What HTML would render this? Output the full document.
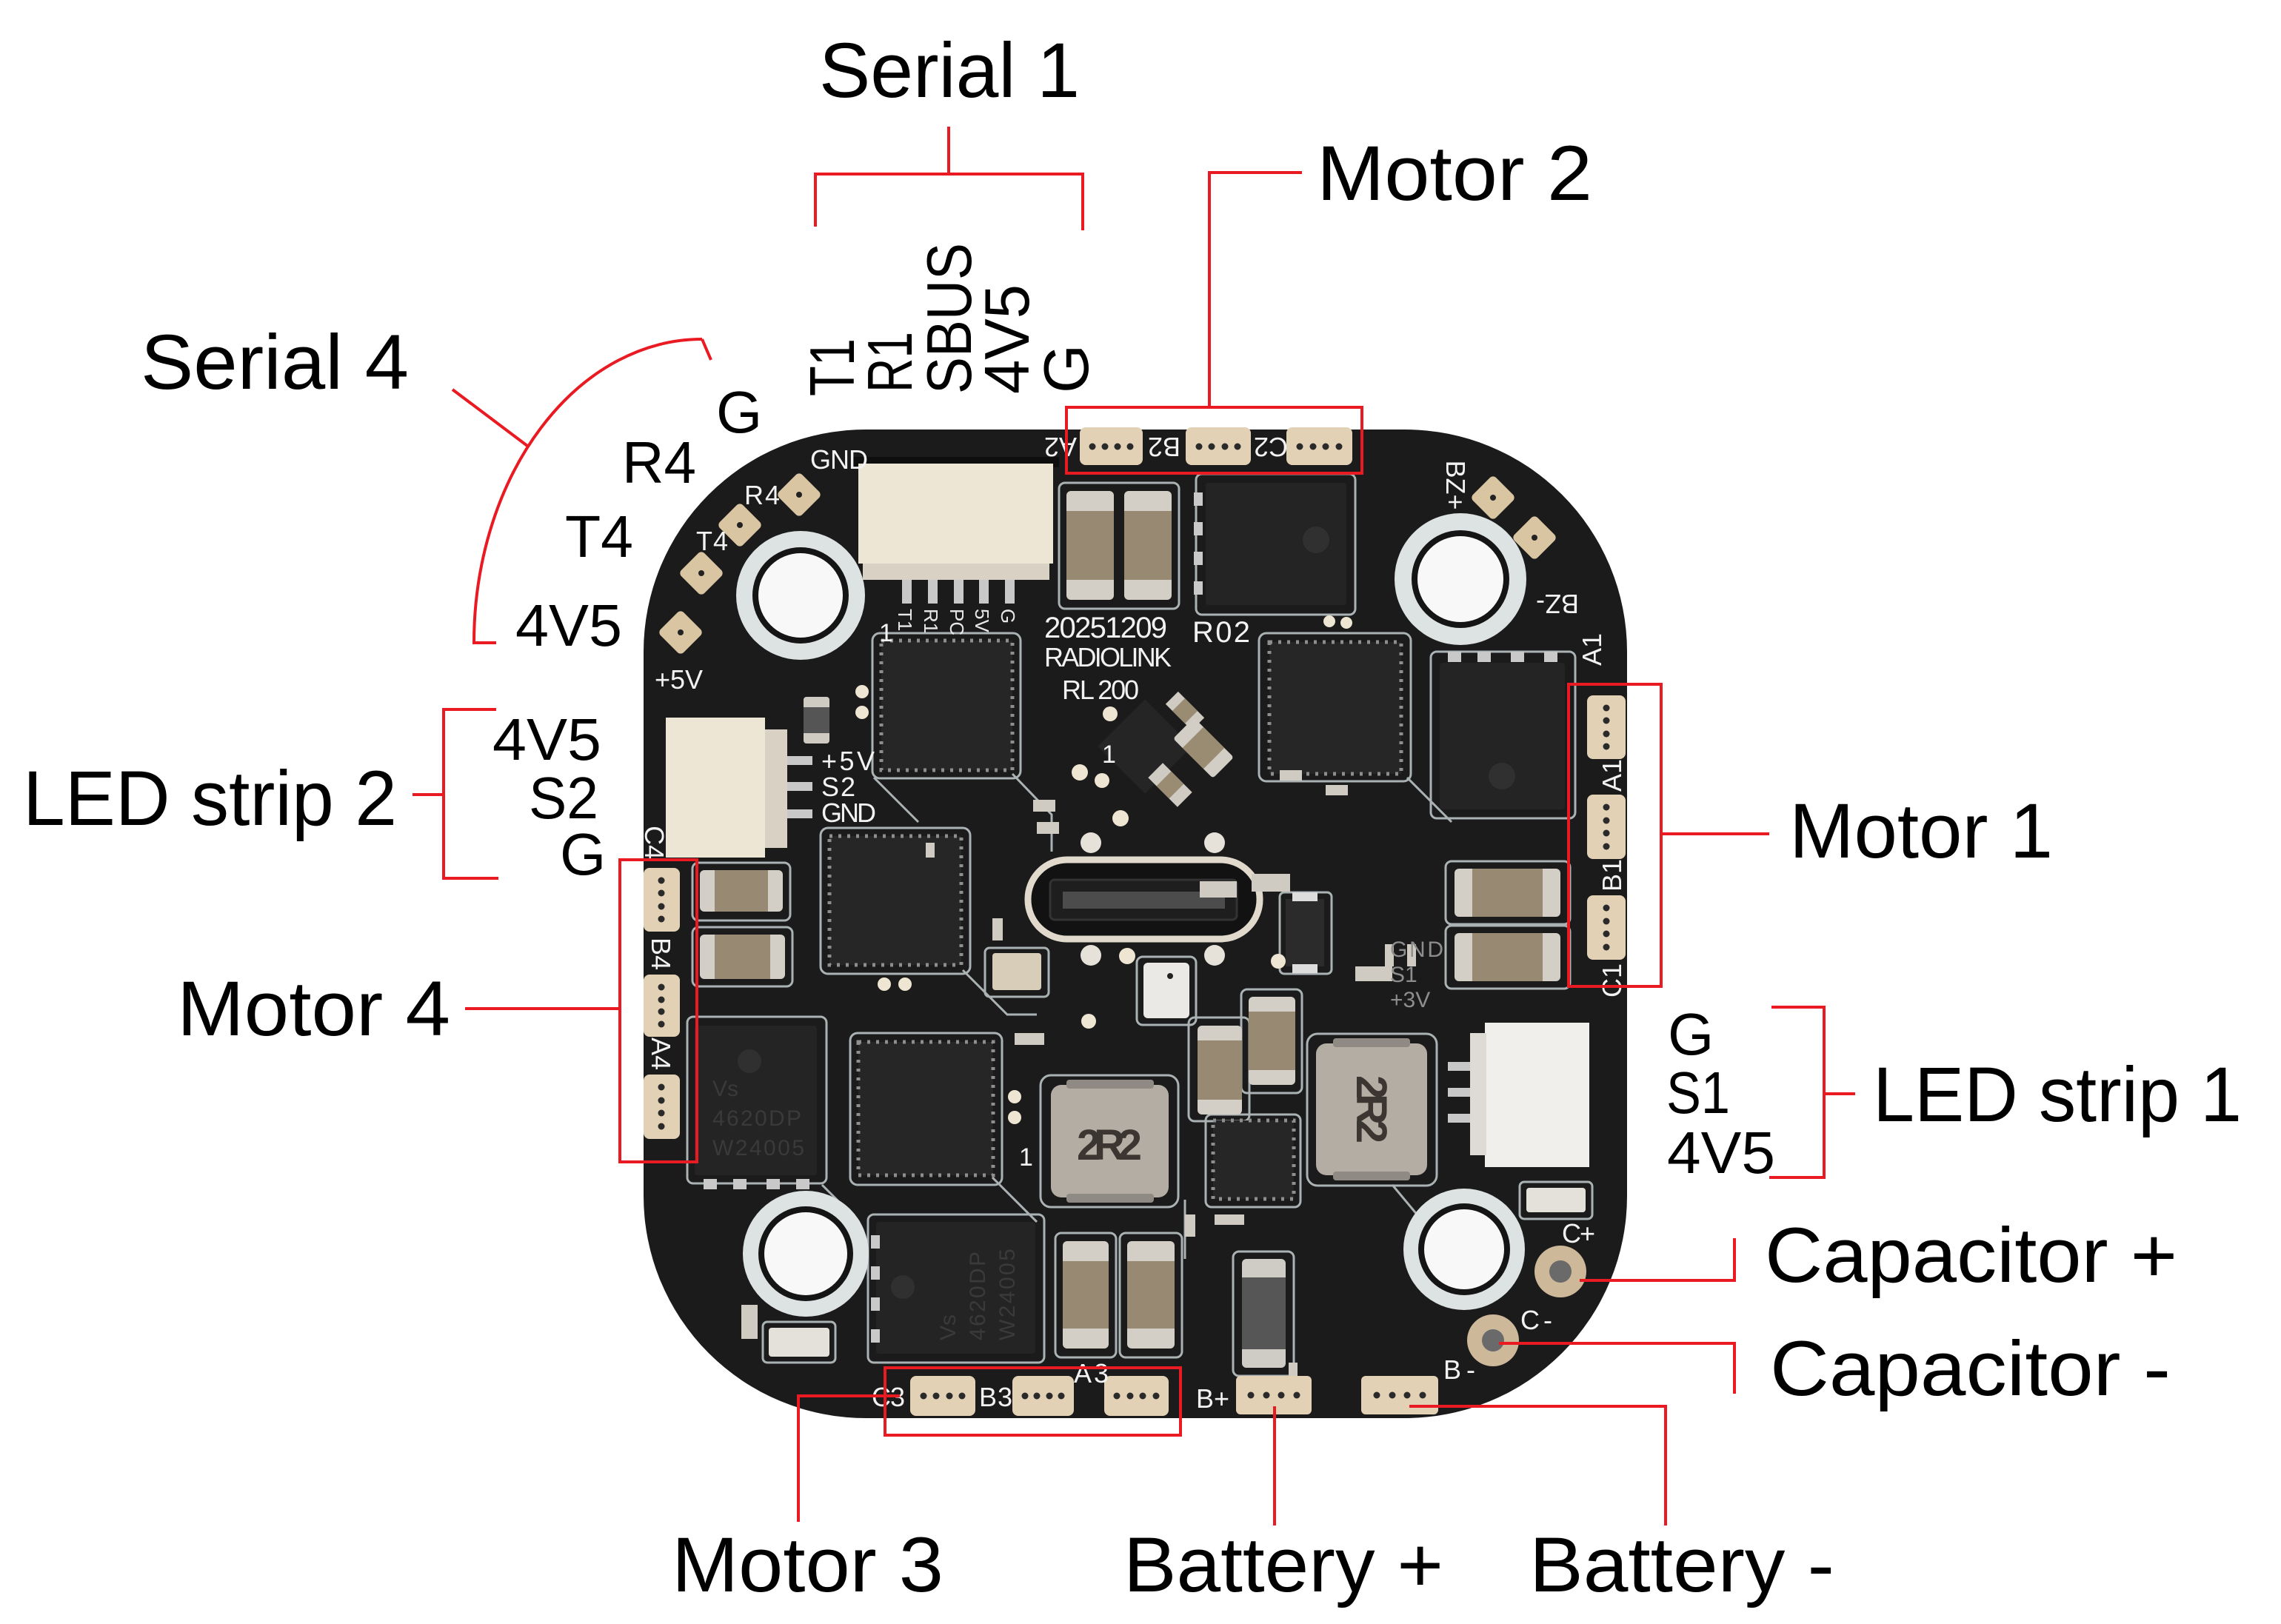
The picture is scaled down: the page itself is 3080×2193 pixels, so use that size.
<!DOCTYPE html>
<html><head><meta charset="utf-8">
<style>html,body{margin:0;padding:0;background:#fff}svg{display:block}</style>
</head><body>
<svg width="3080" height="2193" viewBox="0 0 3080 2193" xmlns="http://www.w3.org/2000/svg" font-family="'Liberation Sans', sans-serif">
<rect width="3080" height="2193" fill="#fff"/>

<!-- ================= PCB ================= -->
<rect x="869" y="580" width="1328" height="1335" rx="300" fill="#1b1b1b"/>

<!-- silkscreen outlines / traces -->
<g fill="none" stroke="#aab2b4" stroke-width="3">
  <rect x="1430" y="652" width="162" height="170" rx="8"/>
  <rect x="1615" y="640" width="215" height="190" rx="8"/>
  <rect x="1178" y="855" width="200" height="196" rx="10"/>
  <rect x="1700" y="855" width="205" height="200" rx="10"/>
  <rect x="1932" y="880" width="195" height="225" rx="8"/>
  <rect x="1108" y="1118" width="202" height="197" rx="10"/>
  <rect x="1148" y="1395" width="205" height="205" rx="10"/>
  <rect x="928" y="1373" width="188" height="225" rx="8"/>
  <rect x="1172" y="1640" width="238" height="200" rx="8"/>
  <rect x="1405" y="1452" width="186" height="178" rx="14"/>
  <rect x="1765" y="1396" width="175" height="205" rx="14"/>
  <rect x="935" y="1165" width="132" height="78" rx="8"/>
  <rect x="935" y="1252" width="135" height="80" rx="8"/>
  <rect x="1952" y="1163" width="168" height="85" rx="8"/>
  <rect x="1952" y="1250" width="168" height="85" rx="8"/>
  <rect x="1425" y="1665" width="82" height="168" rx="8"/>
  <rect x="1512" y="1665" width="84" height="168" rx="8"/>
  <rect x="1665" y="1690" width="82" height="168" rx="8"/>
  <rect x="1605" y="1374" width="82" height="140" rx="8"/>
  <rect x="1676" y="1336" width="82" height="140" rx="8"/>
  <rect x="1628" y="1505" width="128" height="125" rx="8"/>
  <rect x="1030" y="1785" width="98" height="55" rx="6"/>
  <rect x="2052" y="1596" width="98" height="50" rx="6"/>
  <rect x="1330" y="1280" width="86" height="66" rx="6"/>
  <rect x="1535" y="1292" width="80" height="92" rx="8"/>
  <rect x="1728" y="1205" width="70" height="110" rx="6"/>
  <path d="M1180,1050 L1240,1110 M1367,1045 L1420,1100 L1420,1150 M1300,1310 L1360,1370 L1400,1370 M1340,1590 L1400,1650 M1110,1600 L1160,1650 M1880,1600 L1930,1660 M1600,1620 L1600,1700 M1900,1050 L1960,1110"/>
</g>

<!-- mounting holes -->
<g>
  <circle cx="1081" cy="804" r="87" fill="#dde2e2"/><circle cx="1081" cy="804" r="65" fill="#151515"/><circle cx="1081" cy="804" r="57" fill="#f8f8f8"/>
  <circle cx="1972" cy="782" r="89" fill="#dde2e2"/><circle cx="1972" cy="782" r="66" fill="#151515"/><circle cx="1972" cy="782" r="58" fill="#f8f8f8"/>
  <circle cx="1088" cy="1693" r="85" fill="#dde2e2"/><circle cx="1088" cy="1693" r="64" fill="#151515"/><circle cx="1088" cy="1693" r="56" fill="#f8f8f8"/>
  <circle cx="1977" cy="1687" r="82" fill="#dde2e2"/><circle cx="1977" cy="1687" r="62" fill="#151515"/><circle cx="1977" cy="1687" r="54" fill="#f8f8f8"/>
</g>

<!-- diamond pads -->
<g fill="#d9c5a2">
  <rect x="-22" y="-22" width="44" height="44" rx="6" transform="translate(1079,668) rotate(45)"/>
  <rect x="-22" y="-22" width="44" height="44" rx="6" transform="translate(999,709) rotate(45)"/>
  <rect x="-22" y="-22" width="44" height="44" rx="6" transform="translate(947,774) rotate(45)"/>
  <rect x="-22" y="-22" width="44" height="44" rx="6" transform="translate(919,854) rotate(45)"/>
  <rect x="-22" y="-22" width="44" height="44" rx="6" transform="translate(2016,672) rotate(45)"/>
  <rect x="-22" y="-22" width="44" height="44" rx="6" transform="translate(2072,726) rotate(45)"/>
</g>
<g fill="#222">
  <circle cx="1079" cy="668" r="4"/><circle cx="999" cy="709" r="4"/><circle cx="947" cy="774" r="4"/><circle cx="919" cy="854" r="4"/>
  <circle cx="2016" cy="672" r="4"/><circle cx="2072" cy="726" r="4"/>
</g>

<!-- motor / battery pads -->
<g fill="#e2d1b4">
  <rect x="1458" y="577" width="85" height="51" rx="8"/>
  <rect x="1601" y="577" width="88" height="51" rx="8"/>
  <rect x="1737" y="577" width="89" height="51" rx="8"/>
  <rect x="1229" y="1858" width="88" height="54" rx="8"/>
  <rect x="1367" y="1858" width="83" height="54" rx="8"/>
  <rect x="1491" y="1858" width="87" height="54" rx="8"/>
  <rect x="1669" y="1858" width="102" height="52" rx="6"/>
  <rect x="1838" y="1858" width="104" height="52" rx="6"/>
  <rect x="869" y="1172" width="49" height="86" rx="8"/>
  <rect x="869" y="1316" width="49" height="84" rx="8"/>
  <rect x="869" y="1451" width="49" height="87" rx="8"/>
  <rect x="2143" y="939" width="52" height="86" rx="8"/>
  <rect x="2143" y="1073" width="52" height="87" rx="8"/>
  <rect x="2143" y="1209" width="52" height="87" rx="8"/>
</g>
<g fill="#2a2a2a">
  <circle cx="1475" cy="603" r="4.5"/><circle cx="1492" cy="603" r="4.5"/><circle cx="1509" cy="603" r="4.5"/><circle cx="1526" cy="603" r="4.5"/>
  <circle cx="1619" cy="603" r="4.5"/><circle cx="1636" cy="603" r="4.5"/><circle cx="1654" cy="603" r="4.5"/><circle cx="1671" cy="603" r="4.5"/>
  <circle cx="1755" cy="603" r="4.5"/><circle cx="1773" cy="603" r="4.5"/><circle cx="1790" cy="603" r="4.5"/><circle cx="1808" cy="603" r="4.5"/>
  <circle cx="1247" cy="1885" r="4.5"/><circle cx="1264" cy="1885" r="4.5"/><circle cx="1282" cy="1885" r="4.5"/><circle cx="1299" cy="1885" r="4.5"/>
  <circle cx="1384" cy="1885" r="4.5"/><circle cx="1400" cy="1885" r="4.5"/><circle cx="1417" cy="1885" r="4.5"/><circle cx="1433" cy="1885" r="4.5"/>
  <circle cx="1508" cy="1885" r="4.5"/><circle cx="1526" cy="1885" r="4.5"/><circle cx="1543" cy="1885" r="4.5"/><circle cx="1561" cy="1885" r="4.5"/>
  <circle cx="1689" cy="1884" r="4.5"/><circle cx="1710" cy="1884" r="4.5"/><circle cx="1730" cy="1884" r="4.5"/><circle cx="1751" cy="1884" r="4.5"/>
  <circle cx="1859" cy="1884" r="4.5"/><circle cx="1880" cy="1884" r="4.5"/><circle cx="1900" cy="1884" r="4.5"/><circle cx="1921" cy="1884" r="4.5"/>
  <circle cx="893" cy="1189" r="4.5"/><circle cx="893" cy="1206" r="4.5"/><circle cx="893" cy="1224" r="4.5"/><circle cx="893" cy="1241" r="4.5"/>
  <circle cx="893" cy="1333" r="4.5"/><circle cx="893" cy="1350" r="4.5"/><circle cx="893" cy="1366" r="4.5"/><circle cx="893" cy="1383" r="4.5"/>
  <circle cx="893" cy="1468" r="4.5"/><circle cx="893" cy="1486" r="4.5"/><circle cx="893" cy="1503" r="4.5"/><circle cx="893" cy="1521" r="4.5"/>
  <circle cx="2169" cy="956" r="4.5"/><circle cx="2169" cy="973" r="4.5"/><circle cx="2169" cy="991" r="4.5"/><circle cx="2169" cy="1008" r="4.5"/>
  <circle cx="2169" cy="1090" r="4.5"/><circle cx="2169" cy="1108" r="4.5"/><circle cx="2169" cy="1125" r="4.5"/><circle cx="2169" cy="1143" r="4.5"/>
  <circle cx="2169" cy="1226" r="4.5"/><circle cx="2169" cy="1244" r="4.5"/><circle cx="2169" cy="1261" r="4.5"/><circle cx="2169" cy="1279" r="4.5"/>
</g>

<!-- QFN chips -->
<g fill="#262626" stroke="#8e8e8e" stroke-width="5" stroke-dasharray="4 8">
  <rect x="1190" y="865" width="177" height="175"/>
  <rect x="1120" y="1129" width="178" height="174"/>
  <rect x="1714" y="867" width="178" height="178"/>
  <rect x="1159" y="1407" width="182" height="180"/>
  <rect x="1638" y="1513" width="109" height="106"/>
</g>
<!-- MOSFETs -->
<g fill="#242424">
  <rect x="1628" y="652" width="190" height="165" rx="4"/>
  <rect x="1944" y="895" width="169" height="198" rx="4"/>
  <rect x="938" y="1385" width="165" height="202" rx="4"/>
  <rect x="1183" y="1650" width="215" height="178" rx="4"/>
</g>
<g fill="#c9c9c9">
  <rect x="1955" y="880" width="18" height="14"/><rect x="1995" y="880" width="18" height="14"/><rect x="2040" y="880" width="18" height="14"/><rect x="2085" y="880" width="18" height="14"/>
  <rect x="950" y="1592" width="18" height="14"/><rect x="990" y="1592" width="18" height="14"/><rect x="1035" y="1592" width="18" height="14"/><rect x="1075" y="1592" width="18" height="14"/>
  <rect x="1176" y="1668" width="12" height="18"/><rect x="1176" y="1710" width="12" height="18"/><rect x="1176" y="1752" width="12" height="18"/><rect x="1176" y="1795" width="12" height="18"/>
  <rect x="1612" y="665" width="12" height="18"/><rect x="1612" y="705" width="12" height="18"/><rect x="1612" y="745" width="12" height="18"/><rect x="1612" y="785" width="12" height="18"/>
</g>
<g fill="#3a3a3a" font-size="30">
  <text x="962" y="1480">Vs</text>
  <text x="962" y="1520" textLength="120">4620DP</text>
  <text x="962" y="1560" textLength="124">W24005</text>
</g>
<circle cx="1012" cy="1433" r="16" fill="#303030"/>
<circle cx="1219" cy="1738" r="16" fill="#303030"/>
<circle cx="1777" cy="729" r="18" fill="#303030"/>
<circle cx="2028" cy="1048" r="18" fill="#303030"/>
<g transform="translate(1290,1810) rotate(-90)" fill="#3a3a3a" font-size="30">
  <text x="0" y="0">Vs</text>
  <text x="0" y="40" textLength="120">4620DP</text>
  <text x="0" y="80" textLength="124">W24005</text>
</g>

<!-- diagonal chip -->
<rect x="-45" y="-45" width="90" height="90" fill="#252525" transform="translate(1546,1008) rotate(45)"/>
<g transform="translate(1600,960) rotate(-45)">
  <rect x="-12" y="-25" width="24" height="50" fill="#cfcac2"/><rect x="-12" y="-12" width="24" height="24" fill="#9a8c73"/>
</g>
<g transform="translate(1625,1010) rotate(-45)">
  <rect x="-20" y="-38" width="40" height="76" rx="4" fill="#d2cdc5"/><rect x="-20" y="-20" width="40" height="40" fill="#9a8c73"/>
</g>
<g transform="translate(1580,1060) rotate(-45)">
  <rect x="-14" y="-28" width="28" height="56" fill="#cfcac2"/><rect x="-14" y="-12" width="28" height="24" fill="#9a8c73"/>
</g>

<!-- capacitors (vertical) -->
<g>
  <rect x="1440" y="663" width="64" height="147" rx="6" fill="#d3cec6"/><rect x="1440" y="690" width="64" height="93" fill="#988a72"/>
  <rect x="1518" y="663" width="64" height="147" rx="6" fill="#d3cec6"/><rect x="1518" y="690" width="64" height="93" fill="#988a72"/>
  <rect x="1435" y="1676" width="62" height="145" rx="6" fill="#d3cec6"/><rect x="1435" y="1703" width="62" height="91" fill="#988a72"/>
  <rect x="1522" y="1676" width="64" height="145" rx="6" fill="#d3cec6"/><rect x="1522" y="1703" width="64" height="91" fill="#988a72"/>
  <rect x="1617" y="1385" width="60" height="120" rx="6" fill="#d3cec6"/><rect x="1617" y="1405" width="60" height="80" fill="#988a72"/>
  <rect x="1686" y="1346" width="63" height="119" rx="6" fill="#d3cec6"/><rect x="1686" y="1366" width="63" height="79" fill="#988a72"/>
  <rect x="1677" y="1700" width="59" height="147" rx="6" fill="#cfcbc5"/><rect x="1677" y="1725" width="59" height="97" fill="#565656"/>
</g>
<!-- capacitors (horizontal) -->
<g>
  <rect x="945" y="1175" width="112" height="56" rx="6" fill="#d3cec6"/><rect x="965" y="1175" width="72" height="56" fill="#988a72"/>
  <rect x="945" y="1262" width="115" height="60" rx="6" fill="#d3cec6"/><rect x="965" y="1262" width="75" height="60" fill="#988a72"/>
  <rect x="1964" y="1173" width="143" height="65" rx="6" fill="#d3cec6"/><rect x="1988" y="1173" width="95" height="65" fill="#988a72"/>
  <rect x="1964" y="1260" width="143" height="65" rx="6" fill="#d3cec6"/><rect x="1988" y="1260" width="95" height="65" fill="#988a72"/>
</g>

<!-- inductors -->
<rect x="1419" y="1465" width="159" height="152" rx="14" fill="#b3ada4"/>
<rect x="1440" y="1458" width="118" height="12" rx="4" fill="#8f8a83"/>
<rect x="1440" y="1612" width="118" height="12" rx="4" fill="#8f8a83"/>
<text x="1454" y="1566" font-size="58" font-weight="bold" fill="#3b3631" textLength="88">2R2</text>
<rect x="1777" y="1409" width="150" height="178" rx="14" fill="#b3ada4"/>
<rect x="1800" y="1402" width="104" height="12" rx="4" fill="#8f8a83"/>
<rect x="1800" y="1582" width="104" height="12" rx="4" fill="#8f8a83"/>
<text transform="translate(1832,1452) rotate(90)" font-size="58" font-weight="bold" fill="#3b3631" textLength="92">2R2</text>

<!-- connectors -->
<rect x="1150" y="617" width="280" height="14" fill="#0e0e0e"/>
<rect x="1159" y="626" width="263" height="135" fill="#eee6d5"/>
<rect x="1165" y="761" width="252" height="22" fill="#d9d2c4"/>
<g fill="#c8c8c8">
  <rect x="1218" y="783" width="13" height="32"/><rect x="1253" y="783" width="13" height="32"/><rect x="1288" y="783" width="13" height="32"/><rect x="1322" y="783" width="13" height="32"/><rect x="1357" y="783" width="13" height="32"/>
</g>
<rect x="899" y="969" width="134" height="189" fill="#eee6d5"/>
<rect x="1033" y="985" width="30" height="160" fill="#d9d2c4"/>
<g fill="#c8c8c8">
  <rect x="1063" y="1021" width="34" height="12"/><rect x="1063" y="1056" width="34" height="12"/><rect x="1063" y="1093" width="34" height="12"/>
</g>
<rect x="2005" y="1381" width="141" height="195" fill="#f1efeb"/>
<rect x="1985" y="1395" width="22" height="165" fill="#dedbd5"/>
<g fill="#c8c8c8">
  <rect x="1955" y="1434" width="30" height="12"/><rect x="1955" y="1469" width="30" height="12"/><rect x="1955" y="1504" width="30" height="12"/>
</g>

<!-- USB-C -->
<rect x="1388" y="1161" width="313" height="107" rx="53" fill="#121212" stroke="#e0d9cc" stroke-width="9"/>
<rect x="1418" y="1188" width="252" height="54" rx="6" fill="#1e1e1e" stroke="#333" stroke-width="3"/>
<rect x="1435" y="1204" width="219" height="23" fill="#4c4c4c"/>
<circle cx="1473" cy="1138" r="14" fill="#e6e2da"/><circle cx="1640" cy="1138" r="14" fill="#e6e2da"/>
<circle cx="1473" cy="1290" r="14" fill="#e6e2da"/><circle cx="1640" cy="1290" r="14" fill="#e6e2da"/>

<!-- misc components -->
<rect x="1340" y="1287" width="66" height="50" rx="4" fill="#d8cdb9"/>
<rect x="1544" y="1300" width="62" height="75" rx="6" fill="#ebe9e5"/><circle cx="1580" cy="1318" r="4" fill="#222"/>
<rect x="1736" y="1214" width="52" height="91" fill="#2b2b2b"/><rect x="1745" y="1205" width="34" height="12" fill="#ddd"/><rect x="1745" y="1302" width="34" height="12" fill="#ddd"/>
<rect x="1038" y="1793" width="82" height="39" rx="4" fill="#e4e1da"/>
<rect x="2061" y="1604" width="80" height="33" rx="4" fill="#e4e1da"/>
<rect x="1085" y="941" width="35" height="63" rx="4" fill="#cfcac2"/><rect x="1085" y="955" width="35" height="35" fill="#555"/>
<rect x="1001" y="1762" width="22" height="46" fill="#cfcac2"/>
<g fill="#cfcac2">
  <rect x="1250" y="1138" width="12" height="20"/><rect x="1395" y="1080" width="30" height="16"/><rect x="1400" y="1110" width="30" height="16"/>
  <rect x="1728" y="1040" width="30" height="14"/><rect x="1790" y="1060" width="30" height="14"/><rect x="1620" y="1190" width="50" height="22"/>
  <rect x="1690" y="1180" width="52" height="24"/><rect x="1870" y="1275" width="12" height="30"/><rect x="1900" y="1275" width="12" height="30"/>
  <rect x="1830" y="1305" width="50" height="20"/><rect x="1370" y="1395" width="40" height="16"/><rect x="1340" y="1240" width="14" height="30"/>
  <rect x="1740" y="1840" width="12" height="18"/><rect x="1600" y="1640" width="14" height="30"/><rect x="1640" y="1640" width="40" height="14"/>
</g>

<!-- vias / light dots -->
<g fill="#eee5d2">
  <circle cx="1499" cy="964" r="10"/><circle cx="1458" cy="1043" r="11"/><circle cx="1488" cy="1054" r="10"/><circle cx="1513" cy="1105" r="11"/>
  <circle cx="1522" cy="1291" r="11"/><circle cx="1470" cy="1379" r="10"/><circle cx="1726" cy="1298" r="10"/>
  <circle cx="1164" cy="934" r="9"/><circle cx="1164" cy="962" r="9"/><circle cx="1194" cy="1329" r="9"/><circle cx="1222" cy="1329" r="9"/>
  <circle cx="1370" cy="1481" r="9"/><circle cx="1370" cy="1509" r="9"/><circle cx="1795" cy="839" r="8"/><circle cx="1818" cy="841" r="8"/>
</g>

<!-- C+/C- pads -->
<circle cx="2107" cy="1717" r="35" fill="#cdb99a"/><circle cx="2107" cy="1717" r="15" fill="#6a6a6a"/>
<circle cx="2016" cy="1810" r="35" fill="#cdb99a"/><circle cx="2016" cy="1810" r="15" fill="#6a6a6a"/>

<!-- silkscreen text -->
<g fill="#f2f2f2" font-size="36">
  <text x="1094" y="633" textLength="78">GND</text>
  <text x="1005" y="681" textLength="48">R4</text>
  <text x="940" y="743" textLength="43">T4</text>
  <text x="884" y="930" textLength="65">+5V</text>
  <text x="1109" y="1040" textLength="72">+5V</text>
  <text x="1109" y="1075" textLength="46">S2</text>
  <text x="1109" y="1110" textLength="74">GND</text>
  <text x="1177" y="1899" textLength="45">C3</text>
  <text x="1322" y="1899" textLength="45">B3</text>
  <text x="1450" y="1867" textLength="47">A3</text>
  <text x="1615" y="1901" textLength="45">B+</text>
  <text x="1949" y="1862" textLength="43">B-</text>
  <text x="2109" y="1678" textLength="45">C+</text>
  <text x="2053" y="1795" textLength="43">C-</text>
  <text x="1410" y="861" font-size="40" textLength="166">20251209</text>
  <text x="1410" y="900" textLength="172">RADIOLINK</text>
  <text x="1434" y="944" textLength="104">RL 200</text>
  <text x="1610" y="867" font-size="40" textLength="78">R02</text>
  <text x="1187" y="866" font-size="34">1</text>
  <text x="1376" y="1574" font-size="34">1</text>
  <text x="1488" y="1030" font-size="34">1</text>
  <text transform="translate(1432,604) rotate(180)" text-anchor="middle" y="13">A2</text>
  <text transform="translate(1572,604) rotate(180)" text-anchor="middle" y="13">B2</text>
  <text transform="translate(1716,604) rotate(180)" text-anchor="middle" y="13">C2</text>
  <text transform="translate(2103,816) rotate(180)" text-anchor="middle" y="13">BZ-</text>
  <text transform="translate(1966,655) rotate(90)" text-anchor="middle" y="13">BZ+</text>
  <text transform="translate(2149,877) rotate(-90)" text-anchor="middle" y="13">A1</text>
  <text transform="translate(2176,1047) rotate(-90)" text-anchor="middle" y="13">A1</text>
  <text transform="translate(2176,1182) rotate(-90)" text-anchor="middle" y="13">B1</text>
  <text transform="translate(2176,1324) rotate(-90)" text-anchor="middle" y="13">C1</text>
  <text transform="translate(884,1138) rotate(90)" text-anchor="middle" y="13">C4</text>
  <text transform="translate(893,1288) rotate(90)" text-anchor="middle" y="13">B4</text>
  <text transform="translate(893,1423) rotate(90)" text-anchor="middle" y="13">A4</text>
</g>
<g fill="#e8e8e8" font-size="26">
  <text transform="translate(1213,822) rotate(90)">T1</text>
  <text transform="translate(1248,822) rotate(90)">R1</text>
  <text transform="translate(1283,822) rotate(90)">PC</text>
  <text transform="translate(1317,822) rotate(90)">5V</text>
  <text transform="translate(1352,822) rotate(90)">G</text>
</g>
<g fill="#8d8d8d" font-size="30">
  <text x="1877" y="1292" textLength="72">GND</text>
  <text x="1877" y="1326">S1</text>
  <text x="1877" y="1360">+3V</text>
</g>

<!-- ================= RED CONNECTORS ================= -->
<g fill="none" stroke="#ea1a22" stroke-width="4">
  <path d="M1281,171 V235 M1101,306 V235 H1462 V311"/>
  <path d="M1758,233 H1633 V550"/>
  <rect x="1440" y="550" width="399" height="89"/>
  <path d="M948,458 L960,486"/>
  <path d="M948,458 A308,410 0 0,0 640,868 H670"/>
  <path d="M611,526 L712,602"/>
  <path d="M670,958 H599 V1186 H673 M557,1073 H599"/>
  <path d="M628,1362 H837"/>
  <rect x="837" y="1161" width="104" height="408"/>
  <path d="M1078,2055 V1885 H1215"/>
  <rect x="1195" y="1847" width="399" height="91"/>
  <rect x="2118" y="924" width="125" height="408"/>
  <path d="M2243,1126 H2389"/>
  <path d="M2392,1360 H2463 V1590 H2389 M2463,1477 H2505"/>
  <path d="M2133,1729 H2342 V1672"/>
  <path d="M2024,1814 H2342 V1882"/>
  <path d="M1721,1899 V2060"/>
  <path d="M1903,1899 H2249 V2060"/>
</g>

<!-- ================= LABELS ================= -->
<g fill="#000" font-size="105">
  <text x="1106" y="131" textLength="352" lengthAdjust="spacingAndGlyphs">Serial 1</text>
  <text x="1778" y="270" textLength="372" lengthAdjust="spacingAndGlyphs">Motor 2</text>
  <text x="190" y="525" textLength="362" lengthAdjust="spacingAndGlyphs">Serial 4</text>
  <text x="31" y="1114" textLength="505" lengthAdjust="spacingAndGlyphs">LED strip 2</text>
  <text x="2416" y="1158" textLength="356" lengthAdjust="spacingAndGlyphs">Motor 1</text>
  <text x="239" y="1398" textLength="369" lengthAdjust="spacingAndGlyphs">Motor 4</text>
  <text x="2529" y="1514" textLength="498" lengthAdjust="spacingAndGlyphs">LED strip 1</text>
  <text x="2383" y="1731" textLength="557" lengthAdjust="spacingAndGlyphs">Capacitor +</text>
  <text x="2390" y="1884" textLength="541" lengthAdjust="spacingAndGlyphs">Capacitor -</text>
  <text x="907" y="2149" textLength="367" lengthAdjust="spacingAndGlyphs">Motor 3</text>
  <text x="1517" y="2149" textLength="432" lengthAdjust="spacingAndGlyphs">Battery +</text>
  <text x="2065" y="2149" textLength="412" lengthAdjust="spacingAndGlyphs">Battery -</text>
</g>
<g fill="#000" font-size="80">
  <text x="967" y="584">G</text>
  <text x="840" y="652" textLength="100" lengthAdjust="spacingAndGlyphs">R4</text>
  <text x="763" y="752" textLength="92" lengthAdjust="spacingAndGlyphs">T4</text>
  <text x="696" y="872" textLength="144" lengthAdjust="spacingAndGlyphs">4V5</text>
  <text x="665" y="1026" textLength="147" lengthAdjust="spacingAndGlyphs">4V5</text>
  <text x="714" y="1105" textLength="94" lengthAdjust="spacingAndGlyphs">S2</text>
  <text x="756" y="1181">G</text>
  <text x="2252" y="1424">G</text>
  <text x="2250" y="1503" textLength="86" lengthAdjust="spacingAndGlyphs">S1</text>
  <text x="2251" y="1584" textLength="146" lengthAdjust="spacingAndGlyphs">4V5</text>
</g>
<g fill="#000" font-size="85">
  <text transform="translate(1153,535) rotate(-90)" textLength="78" lengthAdjust="spacingAndGlyphs">T1</text>
  <text transform="translate(1231,530) rotate(-90)" textLength="82" lengthAdjust="spacingAndGlyphs">R1</text>
  <text transform="translate(1311,532) rotate(-90)" textLength="204" lengthAdjust="spacingAndGlyphs">SBUS</text>
  <text transform="translate(1389,532) rotate(-90)" textLength="148" lengthAdjust="spacingAndGlyphs">4V5</text>
  <text transform="translate(1469,531) rotate(-90)">G</text>
</g>
</svg>
</body></html>
